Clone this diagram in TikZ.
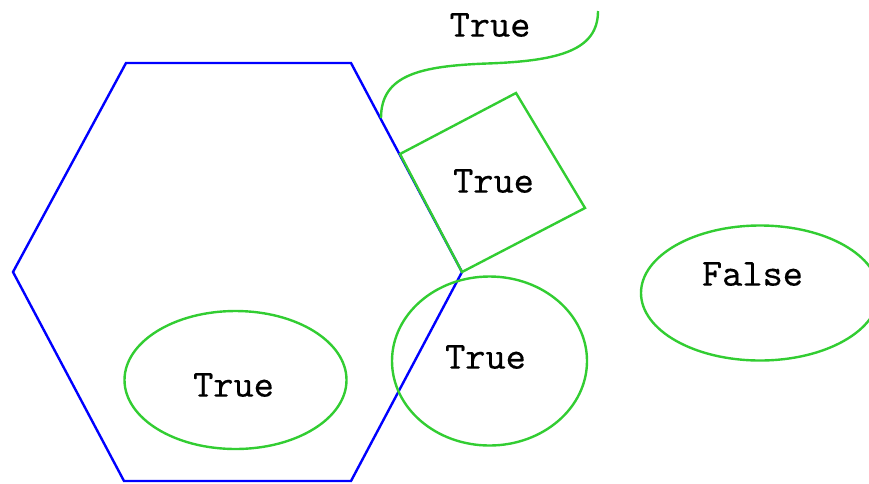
\documentclass[tikz,border=0pt]{standalone}
\usepackage{fontspec}
\usepackage{tikz}
\newfontfamily\codefont{lmmono10-regular.otf}[FakeBold=0.3]
\definecolor{shapegreen}{RGB}{50,205,50}

\begin{document}
\begin{tikzpicture}[x=1pt, y=-1pt,
    greenline/.style={draw=shapegreen, line width=2.4pt},
    blueline/.style={draw=blue, line width=2.4pt, line join=miter},
    lbl/.style={inner sep=0pt, font=\codefont\fontsize{38.5}{46}\selectfont}]
    \useasboundingbox (0,0) rectangle (869,483);
    \clip (0,0) rectangle (869,483);
    % hexagon - blau
    \draw[blueline] (126,63) -- (351,63) -- (462,272) -- (351,481) -- (124,481) -- (13,272) -- cycle;
    % green shapes
    \draw[greenline] (381,118) .. controls (381,75) and (420,66) .. (487,63.5)
        .. controls (560,61) and (598,50) .. (598,11);
    \draw[greenline] (400,154) -- (516,93) -- (585,208) -- (462,272) -- cycle;
    \draw[greenline] (235.5,380) ellipse [x radius=111, y radius=69];
    \draw[greenline] (489.5,361) ellipse [x radius=97.5, y radius=84.5];
    \draw[greenline] (760,293) ellipse [x radius=119, y radius=67.5];
    % labels
    \node[lbl] (curvelbl) at (490,25) {True};
    \node[lbl] (squarelbl) at (493.5,181) {True};
    \node[lbl] (ovallbl) at (233.5,385) {True};
    \node[lbl] (circlelbl) at (485.5,357) {True};
    \node[lbl] (falselbl) at (752.5,274) {False};
\end{tikzpicture}
\end{document}
